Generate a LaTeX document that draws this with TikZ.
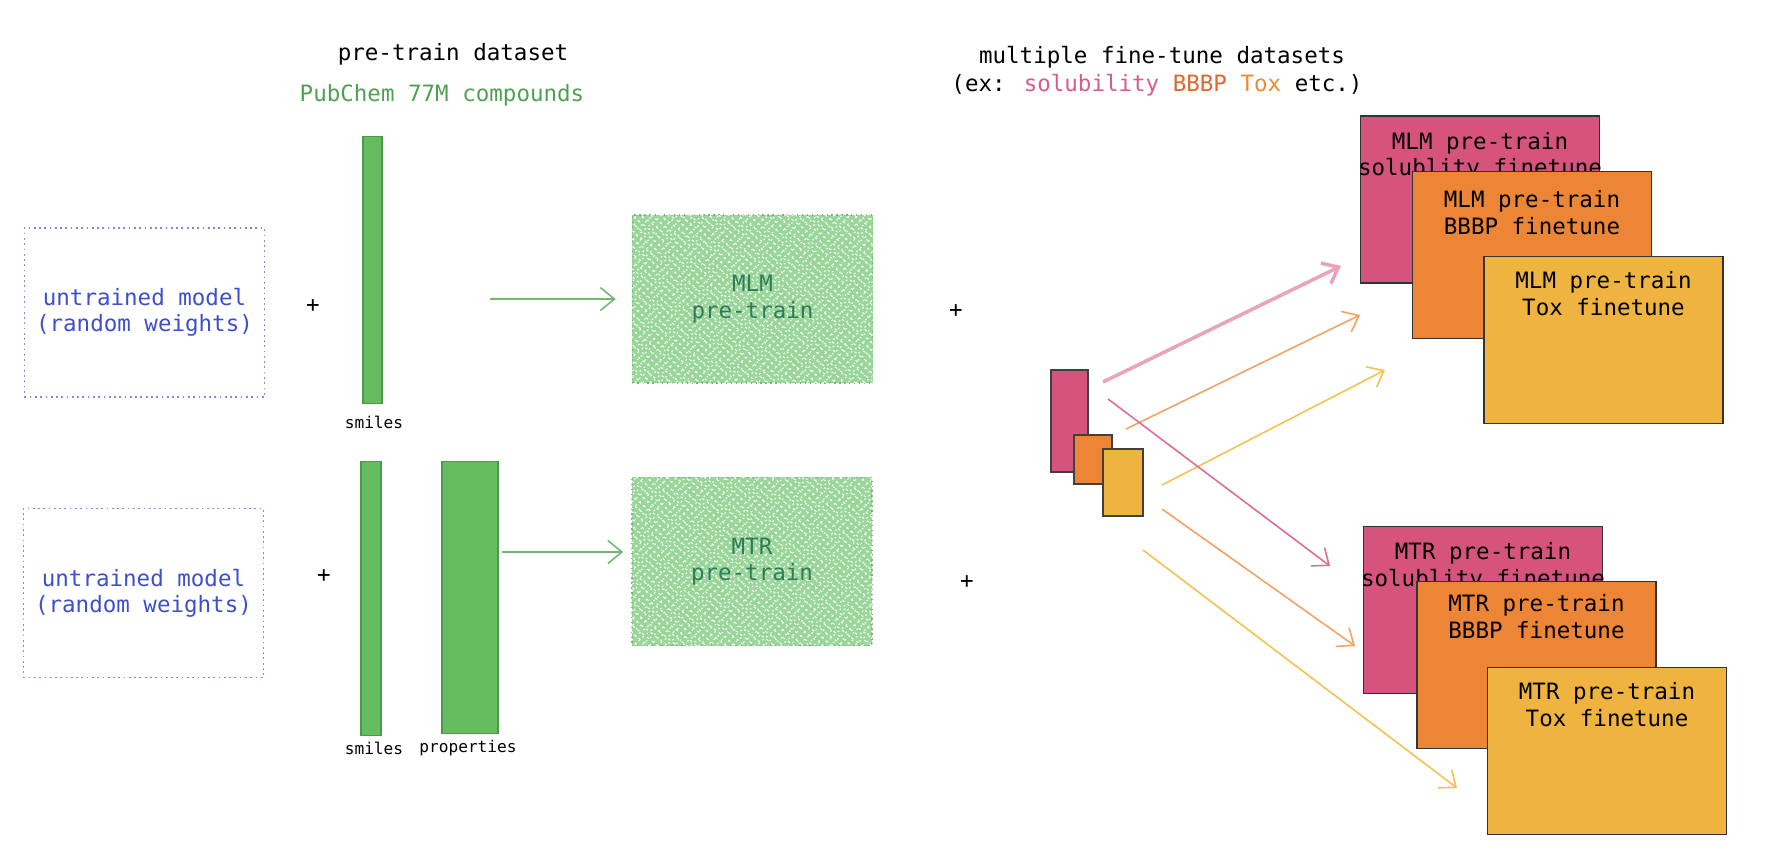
\documentclass[tikz,border=0pt]{standalone}
\usepackage{fontspec}
\setmainfont{DejaVu Sans Mono}
\usepackage{xcolor}
\usetikzlibrary{arrows.meta,patterns.meta,positioning,calc}

\definecolor{barGreen}{HTML}{65BD60}
\definecolor{barEdge}{HTML}{4C9A47}
\definecolor{hatchGreen}{HTML}{9AD69A}
\definecolor{hatchEdge}{HTML}{6DBB6D}
\definecolor{mlmText}{HTML}{2E7D57}
\definecolor{pubGreen}{HTML}{4FA052}
\definecolor{modelBlue}{HTML}{3E4FCB}
\definecolor{dotBlue}{HTML}{8087E8}
\definecolor{solPink}{HTML}{D6537E}
\definecolor{bbbpOrange}{HTML}{EC8535}
\definecolor{toxYellow}{HTML}{EEB43F}
\definecolor{solText}{HTML}{DA5A8C}
\definecolor{bbbpText}{HTML}{E0672B}
\definecolor{toxText}{HTML}{EE8A2E}
\definecolor{arrGreen}{HTML}{72B872}
\definecolor{arrPinkLight}{HTML}{EBA2BD}
\definecolor{arrPink}{HTML}{DC6C96}
\definecolor{arrOrange}{HTML}{F2A263}
\definecolor{arrYellow}{HTML}{F4C24E}

\tikzset{
  txt/.style={font=\fontsize{6.4}{7.5}\selectfont,align=center,inner sep=1pt},
  tiny/.style={font=\fontsize{4.6}{5.5}\selectfont,inner sep=1pt},
  plus/.style={font=\fontsize{6.4}{7.5}\selectfont,inner sep=1pt},
  modelbox/.style={txt,draw=dotBlue,densely dotted,line width=.5pt,
    minimum width=2.4cm,minimum height=1.69cm,text=modelBlue},
  bar/.style={draw=barEdge,fill=barGreen,line width=.3pt,inner sep=0pt},
  hatchbox/.style={txt,draw=hatchEdge,densely dotted,line width=.4pt,fill=hatchGreen,
    minimum width=2.4cm,minimum height=1.68cm,text=mlmText,
    postaction={pattern={Lines[angle=40,distance=1.5pt,line width=.3pt]},pattern color=white},
    postaction={pattern={Lines[angle=-38,distance=1.7pt,line width=.3pt]},pattern color=white}},
  minicard/.style={draw=black!75,line width=.4pt,inner sep=0pt},
  card/.style={draw=black!80,line width=.5pt,minimum width=2.39cm,minimum height=1.67cm,inner sep=0pt},
  cardtext/.style={txt,anchor=north},
  arr/.style={-{Straight Barb[length=4pt,width=6.5pt]},line width=.45pt}
}

\begin{document}
\begin{tikzpicture}[x=0.01cm,y=-0.01cm]
\useasboundingbox (0,0) rectangle (1778,860);

% headings
\node[txt] (ptHead) at (453,54) {pre-train dataset};
\node[txt,text=pubGreen] (pubchem) at (442,95) {PubChem 77M compounds};
\node[txt] (ftHead) at (1162,57) {multiple fine-tune datasets};
\node[txt] (ftEx) at (1157,85) {(ex: \textcolor{solText}{solubility} \textcolor{bbbpText}{BBBP} \textcolor{toxText}{Tox} etc.)};

% MLM row
\node[modelbox] (model1) at (144.5,312.5) {untrained model\\(random weights)};
\node[plus] (plus1) at (313,306) {+};
\node[bar,minimum width=.19cm,minimum height=2.66cm] (smiles1) at (372.5,270) {};
\node[tiny] (smiles1L) at (374,422) {smiles};
\node[hatchbox] (mlm) at (752.5,299) {MLM\\pre-train};
\coordinate (a1s) at (490,299);
\draw[arr,arrGreen,shorten >=.16cm] (a1s) -- (mlm);
\node[plus] (plus3) at (956,311) {+};

% MTR row
\node[modelbox] (model2) at (143.5,593) {untrained model\\(random weights)};
\node[plus] (plus2) at (324,576) {+};
\node[bar,minimum width=.2cm,minimum height=2.73cm] (smiles2) at (371,598.5) {};
\node[bar,minimum width=.56cm,minimum height=2.71cm] (props) at (470,597.5) {};
\node[tiny] (smiles2L) at (374,748) {smiles};
\node[tiny] (propsL) at (468,748) {properties};
\node[hatchbox] (mtr) at (752,561.5) {MTR\\pre-train};
\coordinate (a2s) at (502,552);
\draw[arr,arrGreen,shorten >=.08cm] (a2s) -- (a2s -| mtr.west);
\node[plus] (plus4) at (967,582) {+};

% fine-tune datasets
\node[minicard,fill=solPink,minimum width=.37cm,minimum height=1.02cm] (dsSol) at (1069.5,421) {};
\node[minicard,fill=bbbpOrange,minimum width=.38cm,minimum height=.49cm] (dsBbbp) at (1093,459.5) {};
\node[minicard,fill=toxYellow,minimum width=.4cm,minimum height=.67cm] (dsTox) at (1123,482.5) {};

% MLM fine-tuned models
\node[card,fill=solPink] (mlmSol) at (1480,199.5) {};
\node[cardtext] (mlmSolT) at ([yshift=-.13cm]mlmSol.north) {MLM pre-train\\solublity finetune};
\node[card,fill=bbbpOrange] (mlmBbbp) at (1532,255) {};
\node[cardtext] (mlmBbbpT) at ([yshift=-.16cm]mlmBbbp.north) {MLM pre-train\\BBBP finetune};
\node[card,fill=toxYellow] (mlmTox) at (1603.5,340) {};
\node[cardtext] (mlmToxT) at ([yshift=-.12cm]mlmTox.north) {MLM pre-train\\Tox finetune};

% MTR fine-tuned models
\node[card,fill=solPink] (mtrSol) at (1483,610) {};
\node[cardtext] (mtrSolT) at ([yshift=-.13cm]mtrSol.north) {MTR pre-train\\solublity finetune};
\node[card,fill=bbbpOrange] (mtrBbbp) at (1536.5,665) {};
\node[cardtext] (mtrBbbpT) at ([yshift=-.1cm]mtrBbbp.north) {MTR pre-train\\BBBP finetune};
\node[card,fill=toxYellow] (mtrTox) at (1607,751) {};
\node[cardtext] (mtrToxT) at ([yshift=-.12cm]mtrTox.north) {MTR pre-train\\Tox finetune};

% arrows from datasets
\coordinate (upSolS) at (1103,382);   \coordinate (upSolE) at (1341,266);
\coordinate (upBbbpS) at (1126,429);  \coordinate (upBbbpE) at (1360,315);
\coordinate (upToxS) at (1162,485);   \coordinate (upToxE) at (1385,370);
\coordinate (dnSolS) at (1108,399);   \coordinate (dnSolE) at (1330,566);
\coordinate (dnBbbpS) at (1162,509);  \coordinate (dnBbbpE) at (1355,646);
\coordinate (dnToxS) at (1143,550);   \coordinate (dnToxE) at (1457,788);
\draw[arr,arrPinkLight,line width=1pt] (upSolS) -- (upSolE);
\draw[arr,arrOrange] (upBbbpS) -- (upBbbpE);
\draw[arr,arrYellow] (upToxS) -- (upToxE);
\draw[arr,arrPink] (dnSolS) -- (dnSolE);
\draw[arr,arrOrange] (dnBbbpS) -- (dnBbbpE);
\draw[arr,arrYellow] (dnToxS) -- (dnToxE);
\end{tikzpicture}
\end{document}
